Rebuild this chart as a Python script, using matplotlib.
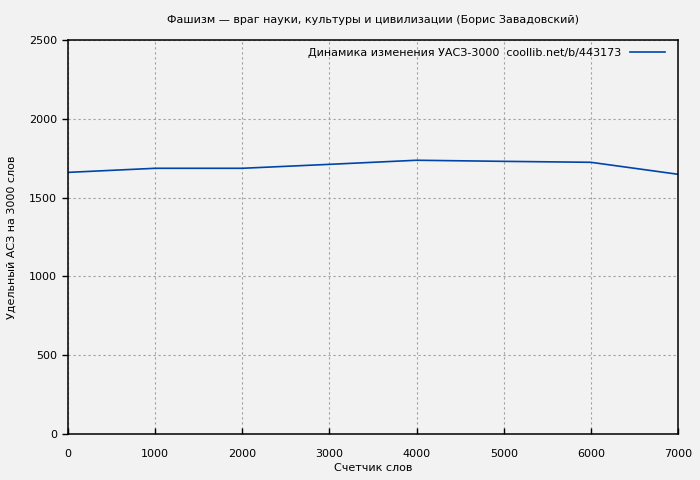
import matplotlib
matplotlib.use("Agg")
from matplotlib import pyplot as plt

# data
words = [0, 1000, 2000, 3000, 4000, 5000, 6000, 7000]
uasz = [1660, 1686, 1686, 1711, 1737, 1730, 1724, 1648]
x_ticks = [0, 1000, 2000, 3000, 4000, 5000, 6000, 7000]
y_ticks = [0, 500, 1000, 1500, 2000, 2500]

bg = "#f2f2f2"
plt.rcParams["font.family"] = "DejaVu Sans"
plt.rcParams["font.size"] = 8

fig = plt.figure(figsize=(7, 4.8), dpi=100, facecolor=bg)
ax = fig.add_axes([68 / 700, 46 / 480, 610 / 700, 394 / 480], facecolor=bg)

ax.plot(words, uasz, color="#0044aa", lw=1.2,
        label="Динамика изменения УАСЗ-3000  coollib.net/b/443173")

ax.set_xlim(0, 7000)
ax.set_ylim(0, 2500)
ax.set_xticks(x_ticks)
ax.set_yticks(y_ticks)
ax.grid(True, color="#a0a0a0", linestyle=(0, (2, 2.5)), lw=0.8)
ax.tick_params(axis="x", direction="in", length=4, width=1, pad=11)
ax.tick_params(axis="y", direction="out", length=4, width=1, pad=4)
for s in ax.spines.values():
    s.set_linewidth(1.1)

ax.set_title("Фашизм — враг науки, культуры и цивилизации (Борис Завадовский)",
             fontsize=8, pad=12)
ax.set_xlabel("Счетчик слов", labelpad=3)
ax.set_ylabel("Удельный АСЗ на 3000 слов", labelpad=9)

leg = ax.legend(loc="upper right", frameon=False, markerfirst=False,
                handlelength=3.2, borderaxespad=0.3, fontsize=8,
                bbox_to_anchor=(0.992, 1.0))

fig.savefig("out.png", dpi=100, facecolor=bg)
